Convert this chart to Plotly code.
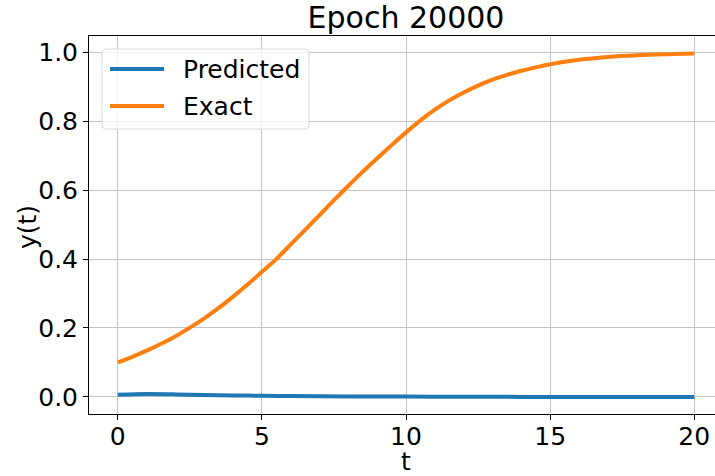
import plotly.graph_objects as go

# ---- data ----
t_exact = [0, 0.5, 1, 1.5, 2, 2.5, 3, 3.5, 4, 4.5, 5, 5.5, 6, 6.5, 7, 7.5, 8, 8.5,
           9, 9.5, 10, 10.5, 11, 11.5, 12, 12.5, 13, 13.5, 14, 14.5, 15, 16, 17,
           18, 19, 20]
y_exact = [0.100, 0.116, 0.134, 0.154, 0.176, 0.201, 0.228, 0.258, 0.291, 0.326,
           0.363, 0.400, 0.443, 0.485, 0.528, 0.571, 0.613, 0.654, 0.693, 0.731,
           0.768, 0.803, 0.834, 0.861, 0.884, 0.904, 0.921, 0.935, 0.947, 0.957,
           0.966, 0.979, 0.987, 0.992, 0.995, 0.997]

t_pred = [0, 1, 2, 3, 4, 5, 6, 8, 10, 12, 14, 16, 18, 20]
y_pred = [0.006, 0.008, 0.007, 0.005, 0.004, 0.003, 0.002, 0.001, 0.0005, 0.0,
          -0.0003, -0.0005, -0.0005, -0.0005]

series_names = ["Predicted", "Exact"]
series_colors = ["#1f77b4", "#ff7f0e"]

x_ticks = [0, 5, 10, 15, 20]
x_tick_labels = ["0", "5", "10", "15", "20"]
y_ticks = [0.0, 0.2, 0.4, 0.6, 0.8, 1.0]
y_tick_labels = ["0.0", "0.2", "0.4", "0.6", "0.8", "1.0"]

title_text = "Epoch 20000"
x_title = "t"
y_title = "y(t)"

FONT = "DejaVu Sans"
FS = 25
W, H = 715, 476
ML, MR, MT, MB = 89, 0, 36, 62
PW, PH = W - ML - MR, H - MT - MB


def px(X):
    return (X - ML) / PW


def py(Y):
    return (H - MB - Y) / PH


fig = go.Figure()
fig.add_trace(go.Scatter(x=t_pred, y=y_pred, mode="lines", name=series_names[0],
                         line=dict(color=series_colors[0], width=4, shape="spline", smoothing=0.8),
                         showlegend=False))
fig.add_trace(go.Scatter(x=t_exact, y=y_exact, mode="lines", name=series_names[1],
                         line=dict(color=series_colors[1], width=4, shape="spline", smoothing=0.8),
                         showlegend=False))

# custom legend (matplotlib look)
x0, x1, y0, y1, r = 102, 309, 49, 129, 4
path = (f"M {px(x0 + r)},{py(y0)} L {px(x1 - r)},{py(y0)} "
        f"Q {px(x1)},{py(y0)} {px(x1)},{py(y0 + r)} L {px(x1)},{py(y1 - r)} "
        f"Q {px(x1)},{py(y1)} {px(x1 - r)},{py(y1)} L {px(x0 + r)},{py(y1)} "
        f"Q {px(x0)},{py(y1)} {px(x0)},{py(y1 - r)} L {px(x0)},{py(y0 + r)} "
        f"Q {px(x0)},{py(y0)} {px(x0 + r)},{py(y0)} Z")
shapes = [dict(type="path", xref="paper", yref="paper", path=path,
               fillcolor="rgba(255,255,255,0.8)", line=dict(color="#d9d9d9", width=1))]
annotations = []
for i, (nm, col) in enumerate(zip(series_names, series_colors)):
    yy = 69 + i * 37
    shapes.append(dict(type="line", xref="paper", yref="paper",
                       x0=px(110), x1=px(164), y0=py(yy), y1=py(yy),
                       line=dict(color=col, width=4)))
    annotations.append(dict(xref="paper", yref="paper", x=px(181), y=py(yy),
                            xanchor="left", yanchor="middle", text=nm, showarrow=False,
                            font=dict(family=FONT, size=FS, color="black")))

# axis titles placed like matplotlib
annotations.append(dict(xref="paper", yref="paper", x=px(406), y=py(461),
                        xanchor="center", yanchor="middle", text=x_title, showarrow=False,
                        font=dict(family=FONT, size=FS, color="black")))
annotations.append(dict(xref="paper", yref="paper", x=px(27), y=py(227),
                        xanchor="center", yanchor="middle", text=y_title, showarrow=False,
                        textangle=-90, font=dict(family=FONT, size=FS, color="black")))

fig.update_layout(
    width=W, height=H,
    margin=dict(l=ML, r=MR, t=MT, b=MB, pad=0),
    paper_bgcolor="white", plot_bgcolor="white",
    font=dict(family=FONT, size=FS, color="black"),
    title=dict(text=title_text, x=px(406), xref="paper", xanchor="center",
               y=1 - 17 / H, yref="container", yanchor="middle",
               font=dict(family=FONT, size=30, color="black")),
    shapes=shapes, annotations=annotations, showlegend=False,
    xaxis=dict(range=[-1, 20.72], tickvals=x_ticks, ticktext=x_tick_labels,
               showgrid=True, gridcolor="#c4c4c4", gridwidth=1, zeroline=False,
               showline=True, linecolor="black", linewidth=1, mirror=True,
               ticks="outside", ticklen=5, tickcolor="black",
               ticklabelstandoff=-5,
               tickfont=dict(family=FONT, size=FS)),
    yaxis=dict(range=[-0.05, 1.048], tickvals=y_ticks, ticktext=y_tick_labels,
               showgrid=True, gridcolor="#c4c4c4", gridwidth=1, zeroline=False,
               showline=True, linecolor="black", linewidth=1,
               ticks="outside", ticklen=5, tickcolor="black",
               tickfont=dict(family=FONT, size=FS)),
)

fig.write_html("out.html")
